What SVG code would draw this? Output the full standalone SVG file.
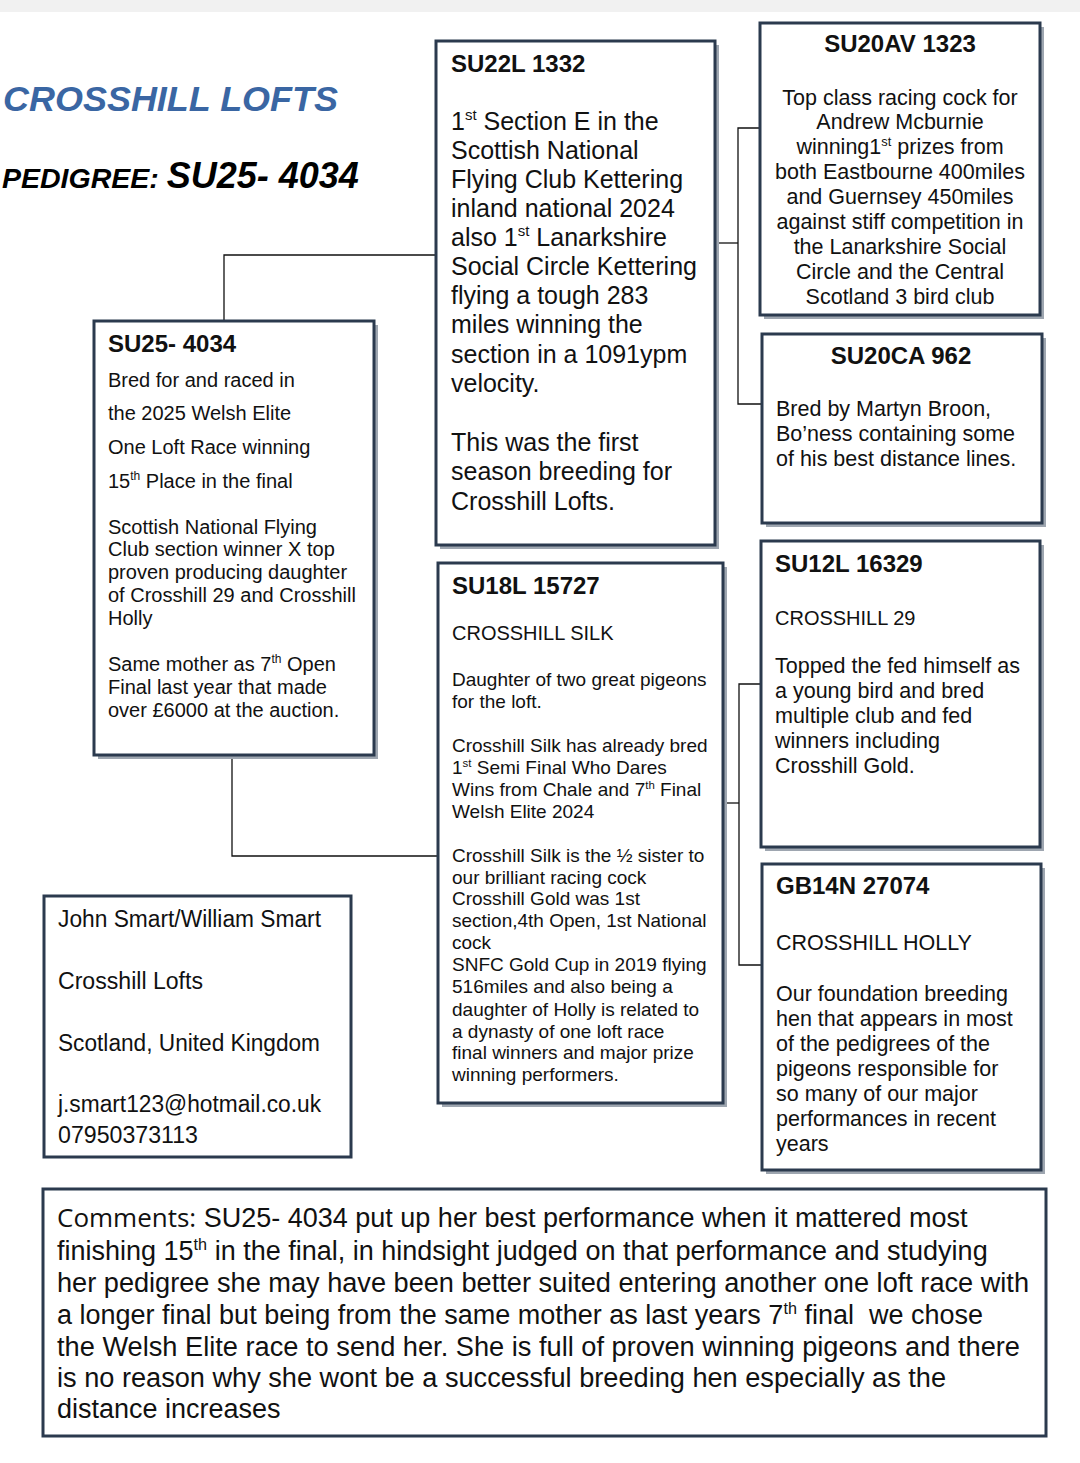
<svg xmlns="http://www.w3.org/2000/svg" width="1080" height="1463" viewBox="0 0 1080 1463">
<style>
text{font-family:"Liberation Sans",Arial,sans-serif;fill:#111}
.box{fill:#fff;stroke:#2b3a4e;stroke-width:3}
.sh{fill:#9ea6b0}
.conn{stroke:#111;stroke-width:1.3;fill:none}
.t{font-weight:bold;font-size:24px}
.b25{font-size:25px}
.b21{font-size:21.5px}
.b20{font-size:20px}
.b19{font-size:19px}
.c{text-anchor:middle}
.nar{font-family:"Liberation Sans Narrow","Liberation Sans",Arial,sans-serif;font-size:23px}
.sup{font-size:0.6em}
</style>
<rect x="0" y="0" width="1080" height="12" fill="#f1f1f1"/>
<text x="3" y="111" font-size="35" font-weight="bold" font-style="italic" style="fill:#3a66a3" textLength="335" lengthAdjust="spacingAndGlyphs">CROSSHILL LOFTS</text>
<text x="2" y="188" font-weight="bold" font-style="italic" style="fill:#000"><tspan font-size="28.5">PEDIGREE: </tspan><tspan font-size="36">SU25- 4034</tspan></text>

<g id="connectors">
<polyline class="conn" points="224,321 224,255 436,255"/>
<polyline class="conn" points="232,755 232,856 438,856"/>
<polyline class="conn" points="715,243 738,243"/>
<polyline class="conn" points="760,128 738,128 738,404 762,404"/>
<polyline class="conn" points="717,803 739,803"/>
<polyline class="conn" points="761,684 739,684 739,965 762,965"/>
</g>

<g id="node-su25">
<rect class="sh" x="98" y="325" width="280" height="434"/>
<rect class="box" x="94" y="321" width="280" height="434"/>
<text class="t" x="108" y="352">SU25- 4034</text>
<text class="b20" x="108" y="387">Bred for and raced in</text>
<text class="b20" x="108" y="420">the 2025 Welsh Elite</text>
<text class="b20" x="108" y="454">One Loft Race winning</text>
<text class="b20" x="108" y="488">15<tspan class="sup" dy="-8">th</tspan><tspan dy="8"> Place in the final</tspan></text>
<text class="b20" x="108" y="534">Scottish National Flying</text>
<text class="b20" x="108" y="556">Club section winner X top</text>
<text class="b20" x="108" y="579">proven producing daughter</text>
<text class="b20" x="108" y="602">of Crosshill 29 and Crosshill</text>
<text class="b20" x="108" y="625">Holly</text>
<text class="b20" x="108" y="671">Same mother as 7<tspan class="sup" dy="-8">th</tspan><tspan dy="8"> Open</tspan></text>
<text class="b20" x="108" y="694">Final last year that made</text>
<text class="b20" x="108" y="717">over £6000 at the auction.</text>
</g>

<g id="node-su22l">
<rect class="sh" x="440" y="45" width="279" height="504"/>
<rect class="box" x="436" y="41" width="279" height="504"/>
<text class="t" x="451" y="72">SU22L 1332</text>
<text class="b25" x="451" y="130">1<tspan class="sup" dy="-10">st</tspan><tspan dy="10"> Section E in the</tspan></text>
<text class="b25" x="451" y="159">Scottish National</text>
<text class="b25" x="451" y="188">Flying Club Kettering</text>
<text class="b25" x="451" y="217">inland national 2024</text>
<text class="b25" x="451" y="246">also 1<tspan class="sup" dy="-10">st</tspan><tspan dy="10"> Lanarkshire</tspan></text>
<text class="b25" x="451" y="275">Social Circle Kettering</text>
<text class="b25" x="451" y="304">flying a tough 283</text>
<text class="b25" x="451" y="333">miles winning the</text>
<text class="b25" x="451" y="363">section in a 1091ypm</text>
<text class="b25" x="451" y="392">velocity.</text>
<text class="b25" x="451" y="451">This was the first</text>
<text class="b25" x="451" y="480">season breeding for</text>
<text class="b25" x="451" y="510">Crosshill Lofts.</text>
</g>

<g id="node-su18l">
<rect class="sh" x="442" y="567" width="285" height="540"/>
<rect class="box" x="438" y="563" width="285" height="540"/>
<text class="t" x="452" y="594">SU18L 15727</text>
<text class="b20" x="452" y="640">CROSSHILL SILK</text>
<text class="b19" x="452" y="686">Daughter of two great pigeons</text>
<text class="b19" x="452" y="708">for the loft.</text>
<text class="b19" x="452" y="752">Crosshill Silk has already bred</text>
<text class="b19" x="452" y="774">1<tspan class="sup" dy="-7">st</tspan><tspan dy="7"> Semi Final Who Dares</tspan></text>
<text class="b19" x="452" y="796">Wins from Chale and 7<tspan class="sup" dy="-7">th</tspan><tspan dy="7"> Final</tspan></text>
<text class="b19" x="452" y="818">Welsh Elite 2024</text>
<text class="b19" x="452" y="862">Crosshill Silk is the ½ sister to</text>
<text class="b19" x="452" y="884">our brilliant racing cock</text>
<text class="b19" x="452" y="905">Crosshill Gold was 1st</text>
<text class="b19" x="452" y="927">section,4th Open, 1st National</text>
<text class="b19" x="452" y="949">cock</text>
<text class="b19" x="452" y="971">SNFC Gold Cup in 2019 flying</text>
<text class="b19" x="452" y="993">516miles and also being a</text>
<text class="b19" x="452" y="1016">daughter of Holly is related to</text>
<text class="b19" x="452" y="1038">a dynasty of one loft race</text>
<text class="b19" x="452" y="1059">final winners and major prize</text>
<text class="b19" x="452" y="1081">winning performers.</text>
</g>

<g id="node-su20av">
<rect class="sh" x="764" y="27" width="280" height="292"/>
<rect class="box" x="760" y="23" width="280" height="292"/>
<text class="t c" x="900" y="52" font-size="23">SU20AV 1323</text>
<text class="b21 c" x="900" y="105">Top class racing cock for</text>
<text class="b21 c" x="900" y="129">Andrew Mcburnie</text>
<text class="b21 c" x="900" y="154">winning1<tspan class="sup" dy="-8">st</tspan><tspan dy="8"> prizes from</tspan></text>
<text class="b21 c" x="900" y="179">both Eastbourne 400miles</text>
<text class="b21 c" x="900" y="204">and Guernsey 450miles</text>
<text class="b21 c" x="900" y="229">against stiff competition in</text>
<text class="b21 c" x="900" y="254">the Lanarkshire Social</text>
<text class="b21 c" x="900" y="279">Circle and the Central</text>
<text class="b21 c" x="900" y="304">Scotland 3 bird club</text>
</g>

<g id="node-su20ca">
<rect class="sh" x="766" y="338" width="280" height="189"/>
<rect class="box" x="762" y="334" width="280" height="189"/>
<text class="t c" x="901" y="364" font-size="23">SU20CA 962</text>
<text class="b21" x="776" y="416">Bred by Martyn Broon,</text>
<text class="b21" x="776" y="441">Bo’ness containing some</text>
<text class="b21" x="776" y="466">of his best distance lines.</text>
</g>

<g id="node-su12l">
<rect class="sh" x="765" y="545" width="279" height="306"/>
<rect class="box" x="761" y="541" width="279" height="306"/>
<text class="t" x="775" y="572">SU12L 16329</text>
<text class="b20" x="775" y="625">CROSSHILL 29</text>
<text class="b21" x="775" y="673">Topped the fed himself as</text>
<text class="b21" x="775" y="698">a young bird and bred</text>
<text class="b21" x="775" y="723">multiple club and fed</text>
<text class="b21" x="775" y="748">winners including</text>
<text class="b21" x="775" y="773">Crosshill Gold.</text>
</g>

<g id="node-gb14n">
<rect class="sh" x="766" y="868" width="279" height="306"/>
<rect class="box" x="762" y="864" width="279" height="306"/>
<text class="t" x="776" y="894">GB14N 27074</text>
<text class="b21" x="776" y="950">CROSSHILL HOLLY</text>
<text class="b21" x="776" y="1001">Our foundation breeding</text>
<text class="b21" x="776" y="1026">hen that appears in most</text>
<text class="b21" x="776" y="1051">of the pedigrees of the</text>
<text class="b21" x="776" y="1076">pigeons responsible for</text>
<text class="b21" x="776" y="1101">so many of our major</text>
<text class="b21" x="776" y="1126">performances in recent</text>
<text class="b21" x="776" y="1151">years</text>
</g>

<g id="node-contact">
<rect class="box" x="44" y="896" width="307" height="261"/>
<text class="nar" x="58" y="927" textLength="263" lengthAdjust="spacingAndGlyphs">John Smart/William Smart</text>
<text class="nar" x="58" y="989" textLength="145" lengthAdjust="spacingAndGlyphs">Crosshill Lofts</text>
<text class="nar" x="58" y="1051" textLength="262" lengthAdjust="spacingAndGlyphs">Scotland, United Kingdom</text>
<text class="nar" x="58" y="1112" textLength="263" lengthAdjust="spacingAndGlyphs">j.smart123@hotmail.co.uk</text>
<text class="nar" x="58" y="1143" textLength="140" lengthAdjust="spacingAndGlyphs">07950373113</text>
</g>

<g id="node-comments">
<rect class="box" x="43" y="1189" width="1003" height="247"/>
<text x="57" y="1227" font-size="27"><tspan font-family="Open Sans,Liberation Sans,sans-serif" font-size="26">Comments:</tspan> SU25- 4034 put up her best performance when it mattered most</text>
<text x="57" y="1260" font-size="27">finishing 15<tspan class="sup" dy="-10">th</tspan><tspan dy="10"> in the final, in hindsight judged on that performance and studying</tspan></text>
<text x="57" y="1292" font-size="27" textLength="972" lengthAdjust="spacingAndGlyphs">her pedigree she may have been better suited entering another one loft race with</text>
<text x="57" y="1324" font-size="27">a longer final but being from the same mother as last years 7<tspan class="sup" dy="-10">th</tspan><tspan dy="10" xml:space="preserve"> final  we chose</tspan></text>
<text x="57" y="1356" font-size="27" textLength="963" lengthAdjust="spacingAndGlyphs">the Welsh Elite race to send her. She is full of proven winning pigeons and there</text>
<text x="57" y="1387" font-size="27" textLength="889" lengthAdjust="spacingAndGlyphs">is no reason why she wont be a successful breeding hen especially as the</text>
<text x="57" y="1418" font-size="27">distance increases</text>
</g>
</svg>
